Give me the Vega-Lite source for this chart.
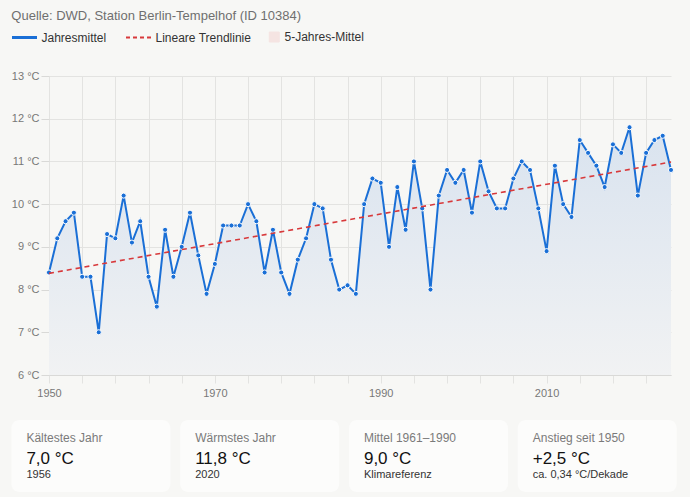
{
  "$schema": "https://vega.github.io/schema/vega-lite/v6.json",
  "background": "#f7f7f5",
  "padding": {"left": 11, "top": 10, "right": 14, "bottom": 6},
  "title": {
    "text": "Quelle: DWD, Station Berlin-Tempelhof (ID 10384)",
    "anchor": "start",
    "frame": "bounds",
    "font": "Liberation Sans",
    "fontSize": 13,
    "fontWeight": "normal",
    "color": "#6f6f6f",
    "offset": 8
  },
  "datasets": {
    "jahreswerte": [
      {"jahr": 1950, "temp": 8.4}, {"jahr": 1951, "temp": 9.2}, {"jahr": 1952, "temp": 9.6}, {"jahr": 1953, "temp": 9.8},
      {"jahr": 1954, "temp": 8.3}, {"jahr": 1955, "temp": 8.3}, {"jahr": 1956, "temp": 7.0}, {"jahr": 1957, "temp": 9.3},
      {"jahr": 1958, "temp": 9.2}, {"jahr": 1959, "temp": 10.2}, {"jahr": 1960, "temp": 9.1}, {"jahr": 1961, "temp": 9.6},
      {"jahr": 1962, "temp": 8.3}, {"jahr": 1963, "temp": 7.6}, {"jahr": 1964, "temp": 9.4}, {"jahr": 1965, "temp": 8.3},
      {"jahr": 1966, "temp": 9.0}, {"jahr": 1967, "temp": 9.8}, {"jahr": 1968, "temp": 8.8}, {"jahr": 1969, "temp": 7.9},
      {"jahr": 1970, "temp": 8.6}, {"jahr": 1971, "temp": 9.5}, {"jahr": 1972, "temp": 9.5}, {"jahr": 1973, "temp": 9.5},
      {"jahr": 1974, "temp": 10.0}, {"jahr": 1975, "temp": 9.6}, {"jahr": 1976, "temp": 8.4}, {"jahr": 1977, "temp": 9.4},
      {"jahr": 1978, "temp": 8.4}, {"jahr": 1979, "temp": 7.9}, {"jahr": 1980, "temp": 8.7}, {"jahr": 1981, "temp": 9.2},
      {"jahr": 1982, "temp": 10.0}, {"jahr": 1983, "temp": 9.9}, {"jahr": 1984, "temp": 8.7}, {"jahr": 1985, "temp": 8.0},
      {"jahr": 1986, "temp": 8.1}, {"jahr": 1987, "temp": 7.9}, {"jahr": 1988, "temp": 10.0}, {"jahr": 1989, "temp": 10.6},
      {"jahr": 1990, "temp": 10.5}, {"jahr": 1991, "temp": 9.0}, {"jahr": 1992, "temp": 10.4}, {"jahr": 1993, "temp": 9.4},
      {"jahr": 1994, "temp": 11.0}, {"jahr": 1995, "temp": 9.9}, {"jahr": 1996, "temp": 8.0}, {"jahr": 1997, "temp": 10.2},
      {"jahr": 1998, "temp": 10.8}, {"jahr": 1999, "temp": 10.5}, {"jahr": 2000, "temp": 10.8}, {"jahr": 2001, "temp": 9.8},
      {"jahr": 2002, "temp": 11.0}, {"jahr": 2003, "temp": 10.3}, {"jahr": 2004, "temp": 9.9}, {"jahr": 2005, "temp": 9.9},
      {"jahr": 2006, "temp": 10.6}, {"jahr": 2007, "temp": 11.0}, {"jahr": 2008, "temp": 10.8}, {"jahr": 2009, "temp": 9.9},
      {"jahr": 2010, "temp": 8.9}, {"jahr": 2011, "temp": 10.9}, {"jahr": 2012, "temp": 10.0}, {"jahr": 2013, "temp": 9.7},
      {"jahr": 2014, "temp": 11.5}, {"jahr": 2015, "temp": 11.2}, {"jahr": 2016, "temp": 10.9}, {"jahr": 2017, "temp": 10.4},
      {"jahr": 2018, "temp": 11.4}, {"jahr": 2019, "temp": 11.2}, {"jahr": 2020, "temp": 11.8}, {"jahr": 2021, "temp": 10.2},
      {"jahr": 2022, "temp": 11.2}, {"jahr": 2023, "temp": 11.5}, {"jahr": 2024, "temp": 11.6}, {"jahr": 2025, "temp": 10.8}
    ],
    "kennzahlen": [
      {"karte": "Kältestes Jahr", "wert": "7,0 °C", "zusatz": "1956"},
      {"karte": "Wärmstes Jahr", "wert": "11,8 °C", "zusatz": "2020"},
      {"karte": "Mittel 1961–1990", "wert": "9,0 °C", "zusatz": "Klimareferenz"},
      {"karte": "Anstieg seit 1950", "wert": "+2,5 °C", "zusatz": "ca. 0,34 °C/Dekade"}
    ]
  },
  "vconcat": [
    {
      "width": 622,
      "height": 299,
      "data": {"name": "jahreswerte"},
      "encoding": {
        "x": {
          "field": "jahr",
          "type": "quantitative",
          "scale": {"domain": [1950, 2025], "nice": false, "zero": false},
          "axis": {
            "title": null,
            "values": [1950, 1954, 1958, 1962, 1966, 1970, 1974, 1978, 1982, 1986, 1990, 1994, 1998, 2002, 2006, 2010, 2014, 2018, 2022],
            "format": "d",
            "labelExpr": "datum.value % 20 === 10 ? datum.label : ''",
            "labelFlush": false,
            "labelBound": false,
            "grid": true,
            "gridColor": "#e3e3e1",
            "tickColor": "#e3e3e1",
            "tickSize": 8,
            "domainColor": "#d9d9d7",
            "labelPadding": 4
          }
        },
        "y": {
          "field": "temp",
          "type": "quantitative",
          "scale": {"domain": [6, 13], "nice": false, "zero": false},
          "axis": {
            "title": null,
            "values": [6, 7, 8, 9, 10, 11, 12, 13],
            "labelExpr": "datum.value + ' °C'",
            "labelFlush": false,
            "labelBound": false,
            "grid": true,
            "gridColor": "#e3e3e1",
            "tickColor": "#d9d9d7",
            "tickSize": 8,
            "domain": false,
            "labelPadding": 2
          }
        }
      },
      "layer": [
        {
          "mark": {
            "type": "area",
            "color": {
              "gradient": "linear",
              "x1": 0, "y1": 0, "x2": 0, "y2": 1,
              "stops": [
                {"offset": 0, "color": "#d9e3ef"},
                {"offset": 1, "color": "#f1f2f3"}
              ]
            }
          },
          "encoding": {"y2": {"datum": 6}}
        },
        {
          "mark": {"type": "line", "strokeWidth": 2},
          "encoding": {
            "color": {
              "datum": "Jahresmittel",
              "type": "nominal",
              "scale": {
                "domain": ["Jahresmittel", "Lineare Trendlinie", "5-Jahres-Mittel"],
                "range": ["#1a6fd6", "#d8393b", "#f5e4e2"]
              },
              "legend": {
                "title": null,
                "orient": "none",
                "legendX": -30.5,
                "legendY": -45,
                "padding": 0,
                "direction": "horizontal",
                "symbolType": "stroke",
                "symbolSize": 625,
                "symbolStrokeWidth": 3,
                "labelFont": "Liberation Sans",
                "labelFontSize": 12,
                "labelColor": "#333333",
                "labelOffset": 11,
                "columnPadding": 15,
                "encode": {
                  "symbols": {
                    "update": {
                      "shape": {"signal": "datum.value === '5-Jahres-Mittel' ? 'M-1.3,-0.4H-0.5V0.4H-1.3Z' : 'stroke'"},
                      "fill": {"signal": "datum.value === '5-Jahres-Mittel' ? '#f5e4e2' : 'transparent'"},
                      "stroke": {"signal": "datum.value === 'Jahresmittel' ? '#1a6fd6' : datum.value === 'Lineare Trendlinie' ? '#d8393b' : '#e8c8c4'"},
                      "strokeWidth": {"signal": "datum.value === 'Jahresmittel' ? 3 : datum.value === 'Lineare Trendlinie' ? 2 : 1"},
                      "strokeDash": {"signal": "datum.value === 'Lineare Trendlinie' ? [4, 3] : []"}
                    }
                  },
                  "labels": {
                    "update": {
                      "dx": {"signal": "datum.value === '5-Jahres-Mittel' ? -18 : 0"}
                    }
                  }
                }
              }
            }
          }
        },
        {
          "mark": {"type": "point", "filled": true, "size": 26, "color": "#1a6fd6", "stroke": "#ffffff", "strokeWidth": 1, "opacity": 1}
        },
        {
          "transform": [
            {"regression": "temp", "on": "jahr", "extent": [1950, 2025]}
          ],
          "mark": {"type": "line", "strokeWidth": 1.6, "strokeDash": [5, 4]},
          "encoding": {
            "color": {"datum": "Lineare Trendlinie", "type": "nominal"}
          }
        }
      ]
    },
    {
      "width": 622,
      "height": 72,
      "data": {"name": "kennzahlen"},
      "encoding": {
        "x": {
          "field": "karte",
          "type": "nominal",
          "sort": null,
          "scale": {"type": "band", "range": [-37.6, 627.7], "paddingInner": 0.058, "paddingOuter": 0},
          "axis": null
        }
      },
      "layer": [
        {
          "mark": {"type": "rect", "color": "#fcfcfb", "cornerRadius": 8}
        },
        {
          "mark": {"type": "text", "align": "left", "baseline": "alphabetic", "dx": 15, "dy": -14, "font": "Liberation Sans", "fontSize": 12, "color": "#7a7a7a"},
          "encoding": {"x": {"field": "karte", "type": "nominal", "sort": null, "bandPosition": 0}, "text": {"field": "karte"}}
        },
        {
          "mark": {"type": "text", "align": "left", "baseline": "alphabetic", "dx": 15, "dy": 8, "font": "Liberation Sans", "fontSize": 17, "color": "#111111"},
          "encoding": {"x": {"field": "karte", "type": "nominal", "sort": null, "bandPosition": 0}, "text": {"field": "wert"}}
        },
        {
          "mark": {"type": "text", "align": "left", "baseline": "alphabetic", "dx": 15, "dy": 22, "font": "Liberation Sans", "fontSize": 11, "color": "#333333"},
          "encoding": {"x": {"field": "karte", "type": "nominal", "sort": null, "bandPosition": 0}, "text": {"field": "zusatz"}}
        }
      ]
    }
  ],
  "spacing": 22,
  "config": {
    "view": {"stroke": null},
    "axis": {
      "labelFont": "Liberation Sans",
      "labelFontSize": 11,
      "labelColor": "#777777"
    }
  }
}
